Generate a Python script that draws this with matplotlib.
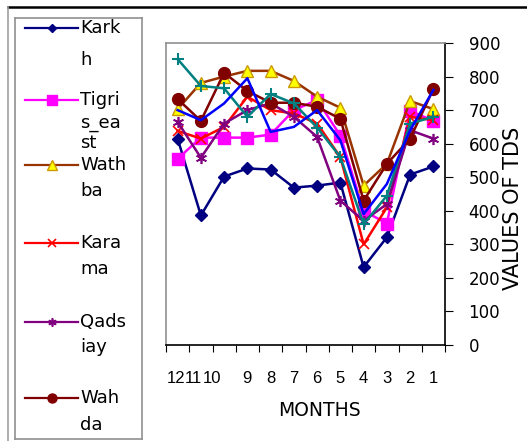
import numpy as np
import matplotlib.pyplot as plt
from matplotlib.lines import Line2D
import matplotlib.transforms as mtransforms

plt.rcParams['font.family'] = ['DejaVu Sans']

months = ['12', '11', '10', '9', '8', '7', '6', '5', '4', '3', '2', '1']

karkh = [615, 386, 502, 526, 523, 469, 475, 484, 232, 321, 508, 532]
tigris_east = [555, 618, 618, 618, 627, 700, 730, 624, 400, 362, 698, 668]
wathba = [703, 781, 800, 817, 817, 787, 740, 707, 475, 540, 727, 703]
karama = [638, 615, 650, 740, 700, 690, 660, 560, 300, 410, 680, 670]
qadsiay = [665, 558, 660, 700, 720, 680, 620, 430, 370, 420, 640, 615]
wahda = [733, 668, 811, 757, 722, 722, 710, 674, 430, 540, 615, 763]
station7 = [852, 772, 765, 680, 748, 720, 648, 560, 360, 445, 660, 680]
station8 = [700, 670, 720, 795, 635, 650, 700, 610, 390, 480, 640, 760]

W, H = 527, 441
fig = plt.figure(figsize=(W / 100, H / 100), dpi=100)

# outer chart frame: dark top edge, grey left edge
fig.add_artist(Line2D([8 / W, 1], [1 - 7 / H, 1 - 7 / H], transform=fig.transFigure, color='black', lw=1.8))
fig.add_artist(Line2D([8 / W, 8 / W], [0, 1 - 7 / H], transform=fig.transFigure, color='#a0a0a0', lw=1.2))

ax = fig.add_axes([166 / W, (H - 345) / H, (445 - 166) / W, (345 - 43) / H])
x = np.arange(len(months))

series = [
    (karkh, dict(color='#000080', marker='D', ms=6.5, mfc='#000080', mec='#000080')),
    (tigris_east, dict(color='#ff00ff', marker='s', ms=8.5, mfc='#ff00ff', mec='#ff00ff')),
    (wathba, dict(color='#993300', marker='^', ms=9, mfc='#ffff00', mec='#cc9900')),
    (karama, dict(color='#ff0000', marker='x', ms=7, mew=1.2)),
    (qadsiay, dict(color='#800080', marker=(6, 2, 0), ms=8, mew=1.2)),
    (wahda, dict(color='#800000', marker='o', ms=8.5, mfc='#800000', mec='#800000')),
    (station7, dict(color='#008080', marker='+', ms=9, mew=1.5)),
    (station8, dict(color='#0000ff')),
]
for vals, style in series:
    ax.plot(x, vals, lw=1.8, **style)

ax.set_xlim(-0.5, 11.5)
ax.set_ylim(0, 900)
ax.set_xticks(np.arange(-0.5, 12, 1))
ax.set_xticklabels([])
ax.set_xticks(x, minor=True)
ax.set_xticklabels(months, minor=True, fontsize=12, family='Liberation Sans')
ax.tick_params(axis='x', which='major', direction='out', length=5, color='black')
ax.tick_params(axis='x', which='minor', length=0, pad=19)

# two-digit month labels crowd together on the left
for lbl, dx in zip(ax.get_xticklabels(minor=True)[:3], [-2, -7, -12]):
    lbl.set_transform(lbl.get_transform() + mtransforms.ScaledTranslation(dx / 100, 0, fig.dpi_scale_trans))

ax.yaxis.tick_right()
ax.set_yticks(np.arange(0, 901, 100))
ax.tick_params(axis='y', direction='out', length=6, pad=11, labelsize=12)

for side in ['left', 'top']:
    ax.spines[side].set_color('#909090')
    ax.spines[side].set_linewidth(1.2)
for side in ['right', 'bottom']:
    ax.spines[side].set_color('black')
    ax.spines[side].set_linewidth(1.2)

fig.text(319 / W, 1 - 410 / H, 'MONTHS', ha='center', va='center', fontsize=13.5)
fig.text(513 / W, 1 - 208 / H, 'VALUES OF TDS', ha='center', va='center', rotation=90, fontsize=15)

# legend box with wrapped names
lax = fig.add_axes([15 / W, (H - 439) / H, 127 / W, 421 / H])
lax.set_xlim(15, 142)
lax.set_ylim(439, 18)
lax.set_xticks([])
lax.set_yticks([])
for sp in lax.spines.values():
    sp.set_color('#909090')
    sp.set_linewidth(1.2)

names = ['Kark\nh', 'Tigri\ns_ea\nst', 'Wath\nba', 'Kara\nma', 'Qads\niay', 'Wah\nda']
line_y = [[28, 60], [100, 123, 143], [165, 191], [243, 269], [322, 347], [398, 425]]
leg_ms = [4.5, 7, 7, 6, 6, 6.5]
for (vals, style), name, ys, ms in zip(series[:6], names, line_y, leg_ms):
    st = dict(style)
    st['ms'] = ms
    lax.plot([25, 78], [ys[0], ys[0]], lw=1.6, color=st['color'])
    lax.plot([51.5], [ys[0]], ls='none', **st)
    for part, yy in zip(name.split('\n'), ys):
        lax.text(80, yy, part, ha='left', va='center', fontsize=13)

fig.savefig('out.png', dpi=100)
